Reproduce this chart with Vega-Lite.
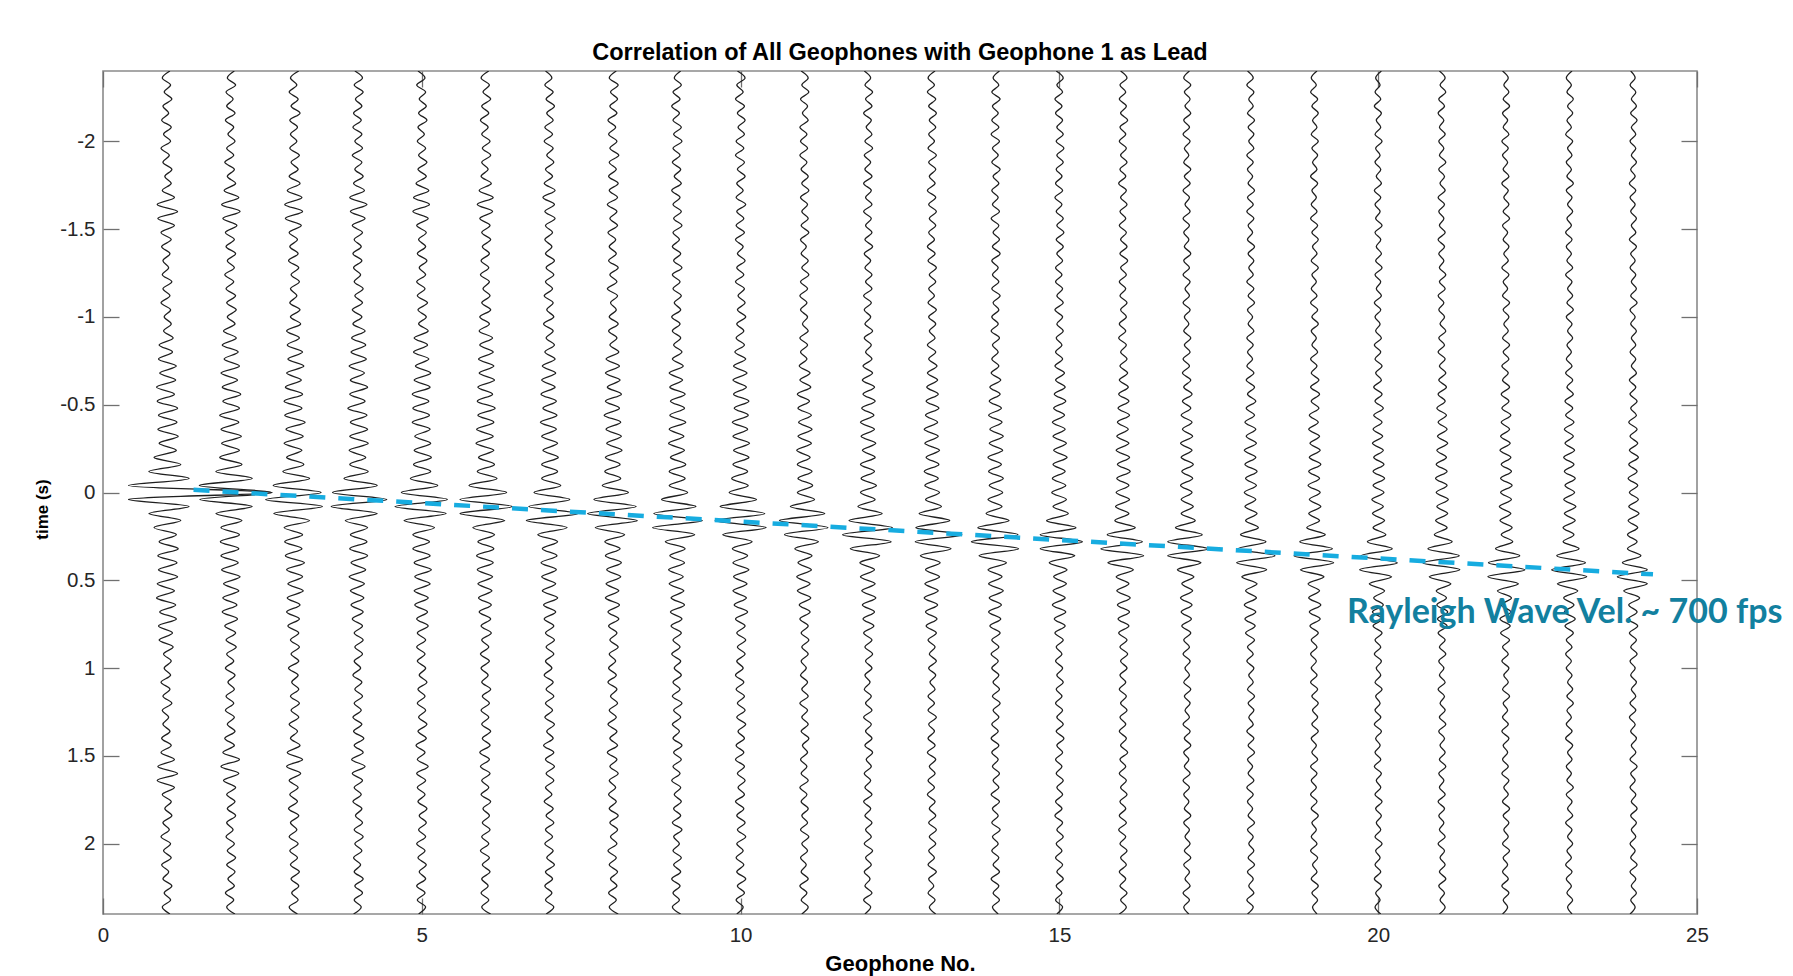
{
"$schema":"https://vega.github.io/schema/vega-lite/v6.json",
"width":1594,"height":843,
"autosize":{"type":"none"},
"padding":{"left":103,"top":71,"right":96,"bottom":62},
"background":"white",
"title":{"text":"Correlation of All Geophones with Geophone 1 as Lead","font":"Liberation Sans","fontSize":23.5,"fontWeight":"bold","color":"#000000","offset":6,"anchor":"middle","frame":"group"},
"config":{
"view":{"stroke":"#8a8a8a","strokeWidth":1.6},
"axis":{"grid":false,"domain":false,"labelFont":"Liberation Sans","titleFont":"Liberation Sans","labelFontSize":20.5,"titleFontSize":20,"titleFontWeight":"bold","labelColor":"#262626","titleColor":"#000000","tickColor":"#707070","tickWidth":1.3,"tickSize":-16,"labelFlush":false}
},
"datasets":{
"times":[{"i":1,"t":-2.4},{"i":2,"t":-2.36},{"i":3,"t":-2.32},{"i":4,"t":-2.28},{"i":5,"t":-2.24},{"i":6,"t":-2.2},{"i":7,"t":-2.16},{"i":8,"t":-2.12},{"i":9,"t":-2.08},{"i":10,"t":-2.04},{"i":11,"t":-2},{"i":12,"t":-1.96},{"i":13,"t":-1.92},{"i":14,"t":-1.88},{"i":15,"t":-1.84},{"i":16,"t":-1.8},{"i":17,"t":-1.76},{"i":18,"t":-1.72},{"i":19,"t":-1.68},{"i":20,"t":-1.64},{"i":21,"t":-1.6},{"i":22,"t":-1.56},{"i":23,"t":-1.52},{"i":24,"t":-1.48},{"i":25,"t":-1.44},{"i":26,"t":-1.4},{"i":27,"t":-1.36},{"i":28,"t":-1.32},{"i":29,"t":-1.28},{"i":30,"t":-1.24},{"i":31,"t":-1.2},{"i":32,"t":-1.16},{"i":33,"t":-1.12},{"i":34,"t":-1.08},{"i":35,"t":-1.04},{"i":36,"t":-1},{"i":37,"t":-0.96},{"i":38,"t":-0.92},{"i":39,"t":-0.88},{"i":40,"t":-0.84},{"i":41,"t":-0.8},{"i":42,"t":-0.76},{"i":43,"t":-0.72},{"i":44,"t":-0.68},{"i":45,"t":-0.64},{"i":46,"t":-0.6},{"i":47,"t":-0.56},{"i":48,"t":-0.52},{"i":49,"t":-0.48},{"i":50,"t":-0.44},{"i":51,"t":-0.4},{"i":52,"t":-0.36},{"i":53,"t":-0.32},{"i":54,"t":-0.28},{"i":55,"t":-0.24},{"i":56,"t":-0.2},{"i":57,"t":-0.16},{"i":58,"t":-0.12},{"i":59,"t":-0.08},{"i":60,"t":-0.04},{"i":61,"t":0},{"i":62,"t":0.04},{"i":63,"t":0.08},{"i":64,"t":0.12},{"i":65,"t":0.16},{"i":66,"t":0.2},{"i":67,"t":0.24},{"i":68,"t":0.28},{"i":69,"t":0.32},{"i":70,"t":0.36},{"i":71,"t":0.4},{"i":72,"t":0.44},{"i":73,"t":0.48},{"i":74,"t":0.52},{"i":75,"t":0.56},{"i":76,"t":0.6},{"i":77,"t":0.64},{"i":78,"t":0.68},{"i":79,"t":0.72},{"i":80,"t":0.76},{"i":81,"t":0.8},{"i":82,"t":0.84},{"i":83,"t":0.88},{"i":84,"t":0.92},{"i":85,"t":0.96},{"i":86,"t":1},{"i":87,"t":1.04},{"i":88,"t":1.08},{"i":89,"t":1.12},{"i":90,"t":1.16},{"i":91,"t":1.2},{"i":92,"t":1.24},{"i":93,"t":1.28},{"i":94,"t":1.32},{"i":95,"t":1.36},{"i":96,"t":1.4},{"i":97,"t":1.44},{"i":98,"t":1.48},{"i":99,"t":1.52},{"i":100,"t":1.56},{"i":101,"t":1.6},{"i":102,"t":1.64},{"i":103,"t":1.68},{"i":104,"t":1.72},{"i":105,"t":1.76},{"i":106,"t":1.8},{"i":107,"t":1.84},{"i":108,"t":1.88},{"i":109,"t":1.92},{"i":110,"t":1.96},{"i":111,"t":2},{"i":112,"t":2.04},{"i":113,"t":2.08},{"i":114,"t":2.12},{"i":115,"t":2.16},{"i":116,"t":2.2},{"i":117,"t":2.24},{"i":118,"t":2.28},{"i":119,"t":2.32},{"i":120,"t":2.36},{"i":121,"t":2.4}]
},
"resolve":{"axis":{"x":"independent","y":"independent"}},
"layer":[
{
"data":{"values":[
{"g":1,"x":[1.05,0.93,1.06,0.96,1.08,0.94,1.03,0.92,1.07,0.95,1.06,0.91,1.04,0.94,1.08,0.97,1.07,0.93,1.12,0.85,1.17,0.86,1.12,0.91,1.07,0.92,1.05,0.94,1.03,0.93,1.08,0.94,1.05,0.91,1.06,0.96,1.07,0.95,1.10,0.88,1.09,0.87,1.15,0.89,1.14,0.84,1.12,0.85,1.17,0.87,1.16,0.86,1.18,0.88,1.15,0.80,1.22,0.72,1.35,0.40,2.65,0.40,1.35,0.72,1.22,0.80,1.15,0.88,1.18,0.86,1.16,0.87,1.17,0.85,1.12,0.84,1.14,0.89,1.15,0.87,1.09,0.88,1.10,0.95,1.07,0.96,1.06,0.91,1.05,0.94,1.08,0.93,1.03,0.94,1.05,0.92,1.07,0.91,1.12,0.86,1.17,0.85,1.12,0.93,1.07,0.97,1.08,0.94,1.04,0.91,1.06,0.95,1.07,0.92,1.03,0.94,1.08,0.96,1.06,0.93,1.05]},
{"g":2,"x":[2.06,1.95,2.08,1.93,2.04,1.94,2.07,1.92,2.05,1.96,2.07,1.94,2.05,1.91,2.06,1.95,2.08,1.90,2.13,1.86,2.15,1.88,2.10,1.92,2.06,1.93,2.08,1.95,2.06,1.91,2.05,1.93,2.08,1.94,2.09,1.95,2.07,1.89,2.09,1.87,2.12,1.90,2.14,1.85,2.11,1.87,2.16,1.88,2.14,1.83,2.13,1.85,2.17,1.86,2.14,1.83,2.18,1.77,2.34,1.51,2.65,1.52,2.34,1.77,2.18,1.85,2.14,1.84,2.13,1.85,2.12,1.86,2.15,1.89,2.13,1.88,2.10,1.87,2.11,1.91,2.08,1.93,2.09,1.94,2.05,1.92,2.07,1.96,2.06,1.93,2.05,1.92,2.06,1.95,2.07,1.91,2.06,1.88,2.14,1.85,2.13,1.89,2.08,1.94,2.07,1.95,2.08,1.94,2.04,1.93,2.06,1.95,2.08,1.94,2.07,1.96,2.06,1.92,2.05,1.94,2.07]},
{"g":3,"x":[3.07,2.94,3.04,2.92,3.06,2.95,3.09,2.93,3.05,2.94,3.04,2.93,3.08,2.95,3.06,2.92,3.09,2.89,3.12,2.85,3.13,2.86,3.11,2.92,3.05,2.93,3.06,2.91,3.07,2.95,3.08,2.94,3.04,2.93,3.09,2.94,3.10,2.88,3.08,2.89,3.13,2.90,3.15,2.88,3.11,2.86,3.13,2.84,3.12,2.85,3.17,2.87,3.14,2.84,3.12,2.88,3.15,2.82,3.24,2.67,3.42,2.55,3.44,2.68,3.24,2.84,3.13,2.85,3.12,2.86,3.16,2.88,3.13,2.90,3.14,2.89,3.09,2.88,3.08,2.90,3.07,2.94,3.08,2.95,3.07,2.91,3.06,2.96,3.07,2.94,3.08,2.95,3.07,2.92,3.05,2.94,3.09,2.89,3.13,2.88,3.10,2.92,3.06,2.93,3.05,2.91,3.07,2.94,3.04,2.92,3.06,2.93,3.05,2.94,3.08,2.95,3.07,2.96,3.06,2.92,3.05]},
{"g":4,"x":[3.95,4.07,3.94,4.08,3.96,4.06,3.93,4.05,3.92,4.06,3.95,4.07,3.91,4.06,3.95,4.08,3.93,4.10,3.87,4.14,3.88,4.11,3.91,4.07,3.94,4.05,3.92,4.06,3.93,4.04,3.94,4.08,3.95,4.07,3.91,4.06,3.92,4.11,3.90,4.12,3.89,4.13,3.86,4.10,3.88,4.15,3.87,4.11,3.84,4.14,3.88,4.15,3.87,4.16,3.86,4.12,3.87,4.16,3.78,4.30,3.60,4.45,3.58,4.30,3.80,4.15,3.88,4.14,3.87,4.15,3.89,4.12,3.86,4.10,3.88,4.09,3.89,4.08,3.91,4.07,3.94,4.08,3.95,4.07,3.94,4.04,3.92,4.06,3.95,4.07,3.94,4.05,3.92,4.06,3.93,4.09,3.94,4.08,3.90,4.11,3.91,4.07,3.94,4.05,3.92,4.06,3.96,4.07,3.94,4.08,3.95,4.06,3.93,4.04,3.94,4.08,3.95,4.07,3.94,4.05,3.93]},
{"g":5,"x":[4.94,5.05,4.92,5.06,4.96,5.07,4.95,5.08,4.94,5.04,4.93,5.06,4.95,5.08,4.94,5.07,4.91,5.11,4.87,5.12,4.86,5.10,4.92,5.07,4.95,5.06,4.93,5.08,4.96,5.06,4.92,5.05,4.93,5.09,4.94,5.07,4.95,5.10,4.88,5.09,4.87,5.11,4.90,5.14,4.88,5.13,4.85,5.11,4.86,5.12,4.85,5.13,4.89,5.14,4.88,5.15,4.87,5.14,4.82,5.25,4.68,5.40,4.58,5.38,4.72,5.20,4.86,5.12,4.86,5.13,4.88,5.15,4.89,5.13,4.88,5.10,4.89,5.09,4.92,5.10,4.93,5.06,4.92,5.05,4.93,5.06,4.96,5.08,4.94,5.05,4.93,5.06,4.95,5.08,4.94,5.07,4.91,5.05,4.93,5.10,4.92,5.06,4.93,5.05,4.94,5.08,4.96,5.07,4.95,5.06,4.92,5.05,4.94,5.07,4.96,5.06,4.92,5.05,4.93,5.06,4.95]},
{"g":6,"x":[6.05,5.93,6.06,5.96,6.08,5.94,6.05,5.92,6.04,5.94,6.07,5.95,6.08,5.94,6.04,5.93,6.09,5.90,6.12,5.87,6.11,5.91,6.07,5.94,6.08,5.95,6.06,5.93,6.05,5.92,6.06,5.96,6.07,5.94,6.08,5.91,6.06,5.90,6.11,5.91,6.12,5.89,6.13,5.90,6.14,5.88,6.11,5.87,6.15,5.88,6.13,5.86,6.12,5.85,6.13,5.89,6.14,5.87,6.18,5.74,6.33,5.60,6.42,5.60,6.30,5.80,6.14,5.88,6.13,5.86,6.12,5.87,6.11,5.88,6.10,5.89,6.09,5.90,6.08,5.93,6.09,5.94,6.05,5.92,6.06,5.93,6.04,5.94,6.08,5.95,6.06,5.93,6.05,5.94,6.08,5.95,6.07,5.91,6.06,5.92,6.07,5.94,6.05,5.93,6.08,5.96,6.06,5.95,6.07,5.94,6.05,5.92,6.06,5.95,6.07,5.94,6.04,5.93,6.05,5.94,6.08]},
{"g":7,"x":[6.94,7.04,6.93,7.06,6.95,7.08,6.96,7.06,6.93,7.05,6.92,7.06,6.96,7.07,6.94,7.05,6.92,7.09,6.90,7.08,6.93,7.09,6.94,7.05,6.93,7.04,6.94,7.08,6.95,7.07,6.94,7.05,6.92,7.06,6.96,7.07,6.91,7.06,6.95,7.08,6.93,7.09,6.89,7.10,6.88,7.09,6.87,7.11,6.90,7.12,6.86,7.11,6.88,7.13,6.90,7.14,6.88,7.13,6.88,7.18,6.76,7.32,6.68,7.45,6.64,7.28,6.82,7.13,6.89,7.12,6.87,7.11,6.88,7.10,6.89,7.13,6.91,7.10,6.92,7.07,6.94,7.08,6.95,7.07,6.94,7.04,6.92,7.06,6.95,7.07,6.94,7.05,6.93,7.08,6.96,7.06,6.91,7.07,6.94,7.08,6.95,7.07,6.94,7.04,6.92,7.06,6.95,7.07,6.94,7.05,6.93,7.06,6.96,7.08,6.94,7.05,6.93,7.04,6.94,7.07,6.95]},
{"g":8,"x":[8.05,7.94,8.08,7.96,8.07,7.95,8.06,7.92,8.04,7.93,8.06,7.95,8.09,7.94,8.05,7.93,8.08,7.94,8.07,7.91,8.06,7.95,8.07,7.92,8.04,7.94,8.05,7.93,8.08,7.95,8.06,7.91,8.07,7.96,8.05,7.94,8.08,7.93,8.06,7.95,8.09,7.89,8.10,7.88,8.11,7.91,8.13,7.88,8.10,7.86,8.12,7.89,8.13,7.90,8.14,7.88,8.11,7.87,8.12,7.83,8.24,7.70,8.36,7.60,8.38,7.72,8.18,7.87,8.11,7.88,8.13,7.90,8.12,7.89,8.09,7.88,8.10,7.92,8.09,7.93,8.06,7.95,8.08,7.94,8.04,7.93,8.05,7.92,8.06,7.96,8.07,7.94,8.05,7.92,8.06,7.95,8.07,7.91,8.06,7.95,8.08,7.94,8.04,7.93,8.05,7.94,8.08,7.95,8.07,7.96,8.06,7.92,8.05,7.94,8.07,7.96,8.06,7.93,8.05,7.94,8.08]},
{"g":9,"x":[9.06,8.96,9.07,8.94,9.05,8.92,9.04,8.94,9.07,8.95,9.08,8.94,9.05,8.93,9.06,8.96,9.07,8.92,9.05,8.94,9.07,8.95,9.08,8.94,9.04,8.93,9.06,8.95,9.08,8.93,9.05,8.94,9.07,8.96,9.06,8.92,9.05,8.93,9.06,8.95,9.08,8.93,9.10,8.88,9.09,8.89,9.13,8.90,9.12,8.89,9.14,8.88,9.11,8.87,9.12,8.90,9.14,8.88,9.13,8.88,9.17,8.76,9.30,8.64,9.40,8.62,9.28,8.82,9.13,8.89,9.12,8.87,9.10,8.88,9.11,8.91,9.12,8.90,9.08,8.91,9.07,8.94,9.05,8.92,9.06,8.96,9.07,8.94,9.05,8.93,9.08,8.95,9.06,8.93,9.04,8.94,9.08,8.95,9.07,8.94,9.05,8.92,9.06,8.96,9.07,8.95,9.06,8.93,9.08,8.95,9.04,8.94,9.07,8.95,9.06,8.92,9.05,8.94,9.04,8.93,9.06]},
{"g":10,"x":[9.95,10.07,9.94,10.04,9.92,10.06,9.95,10.07,9.96,10.06,9.93,10.05,9.92,10.06,9.95,10.07,9.94,10.04,9.93,10.08,9.94,10.05,9.93,10.06,9.92,10.04,9.95,10.07,9.94,10.05,9.92,10.06,9.96,10.07,9.95,10.08,9.94,10.05,9.93,10.06,9.91,10.08,9.89,10.10,9.88,10.09,9.89,10.13,9.90,10.12,9.87,10.11,9.88,10.14,9.89,10.13,9.88,10.11,9.86,10.12,9.82,10.25,9.68,10.38,9.60,10.40,9.72,10.18,9.87,10.11,9.88,10.13,9.89,10.10,9.88,10.09,9.90,10.11,9.92,10.07,9.94,10.08,9.95,10.07,9.94,10.04,9.92,10.05,9.93,10.06,9.95,10.07,9.94,10.08,9.96,10.06,9.93,10.05,9.92,10.06,9.95,10.07,9.96,10.06,9.92,10.05,9.94,10.07,9.95,10.08,9.94,10.04,9.93,10.05,9.94,10.08,9.95,10.06,9.93,10.04,9.94]},
{"g":11,"x":[10.95,11.06,10.96,11.07,10.94,11.05,10.97,11.06,10.93,11.04,10.94,11.05,10.93,11.04,10.95,11.06,10.96,11.07,10.94,11.05,10.96,11.06,10.95,11.07,10.94,11.03,10.95,11.06,10.96,11.07,10.94,11.05,10.93,11.04,10.94,11.05,10.97,11.06,10.93,11.05,10.94,11.04,10.92,11.09,10.93,11.10,10.89,11.08,10.90,11.11,10.91,11.12,10.90,11.11,10.88,11.09,10.89,11.12,10.90,11.13,10.89,11.16,10.78,11.32,10.61,11.37,10.69,11.22,10.85,11.12,10.90,11.11,10.88,11.09,10.89,11.10,10.92,11.09,10.93,11.06,10.95,11.07,10.96,11.06,10.95,11.03,10.94,11.05,10.96,11.06,10.93,11.05,10.96,11.06,10.95,11.07,10.97,11.05,10.94,11.04,10.95,11.06,10.93,11.04,10.95,11.06,10.96,11.05,10.94,11.07,10.96,11.05,10.94,11.03,10.95,11.06,10.93,11.04,10.95,11.06,10.96]},
{"g":12,"x":[11.94,12.04,11.95,12.07,11.96,12.06,11.93,12.05,11.97,12.06,11.95,12.07,11.94,12.04,11.95,12.06,11.93,12.05,11.96,12.06,11.93,12.05,11.96,12.06,11.95,12.07,11.94,12.04,11.95,12.06,11.96,12.06,11.93,12.05,11.94,12.04,11.95,12.07,11.94,12.05,11.96,12.06,11.92,12.07,11.91,12.10,11.92,12.11,11.90,12.09,11.88,12.10,11.89,12.12,11.91,12.11,11.88,12.10,11.89,12.13,11.88,12.11,11.84,12.22,11.70,12.38,11.60,12.36,11.72,12.18,11.87,12.10,11.88,12.11,11.90,12.12,11.91,12.10,11.92,12.09,11.93,12.06,11.95,12.07,11.96,12.06,11.95,12.03,11.94,12.05,11.96,12.06,11.93,12.05,11.96,12.06,11.95,12.07,11.97,12.05,11.94,12.04,11.95,12.06,11.93,12.04,11.95,12.06,11.96,12.05,11.94,12.07,11.96,12.05,11.94,12.03,11.95,12.06,11.93,12.04,11.95]},
{"g":13,"x":[13.05,12.94,13.04,12.93,13.06,12.95,13.07,12.96,13.06,12.95,13.04,12.94,13.07,12.95,13.06,12.96,13.05,12.93,13.06,12.95,13.07,12.96,13.06,12.95,13.04,12.93,13.05,12.94,13.07,12.96,13.06,12.95,13.04,12.94,13.07,12.95,13.06,12.96,13.05,12.93,13.06,12.95,13.08,12.93,13.09,12.92,13.10,12.91,13.11,12.90,13.09,12.88,13.10,12.89,13.12,12.91,13.11,12.88,13.10,12.89,13.12,12.90,13.15,12.80,13.28,12.75,13.47,12.74,13.30,12.82,13.13,12.90,13.12,12.89,13.10,12.88,13.09,12.90,13.08,12.91,13.07,12.94,13.05,12.96,13.07,12.95,13.06,12.97,13.05,12.94,13.04,12.94,13.07,12.95,13.04,12.94,13.05,12.93,13.06,12.96,13.05,12.94,13.04,12.93,13.05,12.96,13.06,12.95,13.07,12.96,13.06,12.95,13.04,12.94,13.07,12.95,13.03,12.94,13.05,12.96,13.06]},
{"g":14,"x":[14.06,13.96,14.05,13.94,14.07,13.95,14.04,13.94,14.05,13.93,14.06,13.95,14.04,13.94,14.07,13.96,14.05,13.94,14.04,13.95,14.06,13.93,14.05,13.96,14.06,13.95,14.07,13.94,14.04,13.95,14.05,13.94,14.07,13.96,14.05,13.94,14.04,13.93,14.06,13.95,14.04,13.94,14.05,13.93,14.08,13.91,14.07,13.90,14.09,13.89,14.10,13.91,14.12,13.90,14.11,13.88,14.09,13.89,14.12,13.90,14.11,13.88,14.10,13.85,14.21,13.72,14.35,13.62,14.36,13.74,14.17,13.88,14.10,13.89,14.12,13.90,14.09,13.89,14.08,13.91,14.07,13.94,14.05,13.93,14.04,13.94,14.05,13.96,14.06,13.95,14.07,13.96,14.05,13.94,14.04,13.93,14.05,13.94,14.04,13.95,14.06,13.96,14.05,13.93,14.06,13.95,14.04,13.94,14.07,13.95,14.04,13.94,14.05,13.96,14.06,13.93,14.05,13.96,14.06,13.95,14.04]},
{"g":15,"x":[14.95,15.06,14.96,15.05,14.93,15.04,14.94,15.05,14.96,15.06,14.95,15.07,14.96,15.06,14.95,15.04,14.94,15.05,14.93,15.04,14.95,15.06,14.96,15.07,14.95,15.06,14.96,15.05,14.94,15.04,14.94,15.05,14.96,15.06,14.93,15.05,14.96,15.06,14.95,15.04,14.94,15.05,14.93,15.08,14.94,15.09,14.92,15.10,14.91,15.08,14.89,15.09,14.90,15.11,14.91,15.12,14.90,15.09,14.89,15.10,14.88,15.11,14.90,15.14,14.80,15.26,14.70,15.36,14.70,15.24,14.84,15.12,14.91,15.11,14.90,15.09,14.89,15.10,14.92,15.09,14.93,15.06,14.95,15.04,14.94,15.05,14.96,15.06,14.95,15.04,14.94,15.05,14.96,15.06,14.95,15.07,14.96,15.05,14.94,15.04,14.95,15.06,14.96,15.05,14.94,15.04,14.93,15.05,14.96,15.06,14.95,15.04,14.94,15.05,14.96,15.06,14.95,15.04,14.94,15.05,14.96]},
{"g":16,"x":[15.96,16.06,15.95,16.04,15.94,16.05,15.96,16.07,15.95,16.04,15.94,16.05,15.96,16.06,15.95,16.04,15.93,16.05,15.96,16.06,15.95,16.04,15.94,16.05,15.96,16.06,15.95,16.07,15.96,16.05,15.94,16.04,15.95,16.06,15.96,16.05,15.94,16.04,15.93,16.05,15.96,16.06,15.95,16.07,15.94,16.08,15.93,16.09,15.92,16.10,15.91,16.08,15.90,16.09,15.89,16.10,15.91,16.11,15.90,16.09,15.89,16.10,15.88,16.09,15.87,16.19,15.75,16.30,15.65,16.32,15.76,16.16,15.89,16.09,15.90,16.11,15.91,16.10,15.92,16.09,15.93,16.06,15.95,16.07,15.96,16.06,15.95,16.04,15.94,16.05,15.96,16.06,15.95,16.04,15.94,16.05,15.96,16.07,15.95,16.04,15.94,16.05,15.96,16.06,15.95,16.04,15.94,16.05,15.93,16.04,15.95,16.06,15.96,16.05,15.94,16.04,15.95,16.06,15.96,16.05,15.94]},
{"g":17,"x":[17.04,16.95,17.06,16.96,17.05,16.97,17.06,16.95,17.04,16.94,17.05,16.96,17.03,16.95,17.06,16.96,17.05,16.94,17.04,16.97,17.05,16.94,17.04,16.95,17.03,16.96,17.06,16.95,17.04,16.94,17.05,16.97,17.04,16.94,17.05,16.96,17.03,16.95,17.06,16.96,17.05,16.94,17.04,16.93,17.06,16.95,17.08,16.93,17.06,16.91,17.08,16.93,17.09,16.90,17.08,16.91,17.10,16.92,17.09,16.90,17.08,16.91,17.10,16.91,17.13,16.82,17.24,16.70,17.33,16.70,17.22,16.85,17.11,16.92,17.09,16.90,17.08,16.91,17.07,16.92,17.06,16.95,17.04,16.94,17.05,16.97,17.04,16.95,17.06,16.96,17.05,16.97,17.04,16.94,17.05,16.96,17.06,16.95,17.03,16.96,17.05,16.94,17.04,16.95,17.03,16.96,17.06,16.95,17.04,16.97,17.05,16.96,17.06,16.95,17.04,16.97,17.05,16.94,17.04,16.95,17.03]},
{"g":18,"x":[17.95,18.04,17.94,18.05,17.97,18.04,17.95,18.06,17.96,18.05,17.97,18.05,17.94,18.04,17.95,18.03,17.96,18.06,17.95,18.04,17.94,18.05,17.96,18.03,17.95,18.06,17.96,18.05,17.97,18.04,17.94,18.05,17.96,18.06,17.95,18.03,17.96,18.05,17.94,18.04,17.95,18.03,17.94,18.05,17.93,18.06,17.95,18.08,17.93,18.06,17.91,18.08,17.93,18.09,17.90,18.08,17.91,18.10,17.92,18.09,17.90,18.08,17.91,18.10,17.92,18.12,17.84,18.24,17.80,18.38,17.78,18.25,17.86,18.10,17.92,18.09,17.90,18.08,17.91,18.07,17.92,18.06,17.95,18.04,17.94,18.05,17.97,18.04,17.95,18.06,17.96,18.05,17.97,18.04,17.94,18.05,17.96,18.06,17.95,18.03,17.96,18.05,17.94,18.04,17.95,18.03,17.96,18.06,17.95,18.04,17.97,18.05,17.96,18.06,17.95,18.04,17.97,18.05,17.94,18.04,17.95]},
{"g":19,"x":[19.04,18.95,19.03,18.94,19.05,18.96,19.06,18.97,19.04,18.95,19.06,18.96,19.05,18.97,19.04,18.94,19.05,18.96,19.03,18.95,19.04,18.94,19.05,18.96,19.06,18.97,19.04,18.95,19.06,18.96,19.03,18.95,19.04,18.94,19.05,18.96,19.06,18.95,19.03,18.96,19.05,18.94,19.04,18.95,19.07,18.94,19.08,18.95,19.07,18.92,19.06,18.91,19.08,18.93,19.09,18.92,19.10,18.91,19.08,18.90,19.09,18.92,19.10,18.91,19.08,18.88,19.17,18.77,19.28,18.68,19.30,18.78,19.15,18.90,19.08,18.91,19.10,18.92,19.09,18.93,19.06,18.95,19.04,18.94,19.03,18.95,19.04,18.94,19.05,18.96,19.06,18.97,19.05,18.96,19.06,18.95,19.03,18.96,19.05,18.94,19.04,18.95,19.03,18.94,19.04,18.95,19.06,18.96,19.03,18.95,19.04,18.94,19.05,18.97,19.04,18.95,19.06,18.96,19.05,18.97,19.04]},
{"g":20,"x":[20.05,19.96,20.03,19.95,20.04,19.94,20.05,19.97,20.04,19.95,20.06,19.96,20.03,19.95,20.04,19.97,20.05,19.94,20.04,19.95,20.03,19.96,20.06,19.95,20.04,19.97,20.05,19.96,20.06,19.95,20.04,19.97,20.05,19.94,20.04,19.95,20.03,19.96,20.05,19.94,20.04,19.95,20.06,19.96,20.05,19.93,20.06,19.95,20.08,19.93,20.06,19.92,20.07,19.91,20.08,19.93,20.09,19.92,20.10,19.92,20.09,19.90,20.08,19.91,20.10,19.92,20.12,19.83,20.22,19.73,20.30,19.71,20.21,19.86,20.10,19.93,20.08,19.91,20.07,19.92,20.06,19.95,20.04,19.94,20.05,19.97,20.04,19.95,20.06,19.96,20.03,19.95,20.04,19.94,20.05,19.96,20.03,19.95,20.04,19.94,20.05,19.97,20.04,19.95,20.06,19.96,20.05,19.97,20.04,19.95,20.06,19.96,20.03,19.95,20.04,19.94,20.05,19.96,20.03,19.95,20.04]},
{"g":21,"x":[20.96,21.05,20.97,21.06,20.95,21.04,20.94,21.03,20.96,21.05,20.95,21.03,20.96,21.06,20.95,21.04,20.97,21.05,20.94,21.04,20.95,21.03,20.96,21.05,20.94,21.04,20.95,21.03,20.96,21.06,20.96,21.05,20.94,21.03,20.95,21.04,20.97,21.06,20.95,21.04,20.94,21.05,20.96,21.06,20.95,21.07,20.94,21.05,20.92,21.07,20.94,21.08,20.93,21.09,20.92,21.07,20.91,21.08,20.90,21.08,20.91,21.10,20.92,21.09,20.90,21.08,20.88,21.16,20.78,21.27,20.70,21.28,20.80,21.14,20.91,21.07,20.92,21.09,20.93,21.08,20.94,21.05,20.96,21.06,20.95,21.03,20.96,21.05,20.94,21.04,20.97,21.05,20.96,21.06,20.95,21.04,20.97,21.05,20.96,21.06,20.95,21.03,20.96,21.05,20.94,21.04,20.95,21.03,20.96,21.05,20.94,21.04,20.97,21.05,20.96,21.06,20.95,21.04,20.97,21.05,20.96]},
{"g":22,"x":[21.95,22.04,21.97,22.05,21.96,22.06,21.95,22.03,21.96,22.05,21.94,22.04,21.95,22.03,21.96,22.05,21.94,22.04,21.97,22.05,21.96,22.06,21.95,22.03,21.96,22.05,21.97,22.04,21.94,22.05,21.96,22.03,21.95,22.06,21.96,22.05,21.97,22.04,21.95,22.06,21.96,22.05,21.94,22.04,21.95,22.06,21.93,22.05,21.94,22.08,21.93,22.06,21.92,22.07,21.91,22.08,21.93,22.09,21.92,22.10,21.92,22.09,21.90,22.08,21.91,22.10,21.93,22.11,21.84,22.22,21.73,22.30,21.72,22.20,21.87,22.09,21.93,22.08,21.91,22.07,21.92,22.06,21.95,22.04,21.94,22.05,21.97,22.04,21.95,22.06,21.96,22.03,21.95,22.04,21.94,22.05,21.96,22.03,21.95,22.04,21.94,22.05,21.97,22.04,21.95,22.06,21.96,22.05,21.97,22.04,21.95,22.06,21.96,22.03,21.95,22.04,21.94,22.05,21.96,22.03,21.95]},
{"g":23,"x":[23.04,22.95,23.03,22.96,23.06,22.97,23.05,22.96,23.03,22.94,23.05,22.97,23.04,22.95,23.03,22.96,23.06,22.95,23.04,22.97,23.05,22.96,23.03,22.94,23.04,22.95,23.03,22.96,23.05,22.94,23.04,22.97,23.05,22.96,23.06,22.95,23.04,22.97,23.05,22.96,23.03,22.95,23.04,22.94,23.05,22.96,23.06,22.93,23.05,22.94,23.07,22.92,23.06,22.93,23.08,22.91,23.07,22.92,23.09,22.93,23.08,22.91,23.10,22.92,23.09,22.90,23.07,22.90,23.15,22.80,23.25,22.72,23.27,22.81,23.13,22.91,23.07,22.92,23.09,22.93,23.06,22.95,23.04,22.94,23.03,22.95,23.04,22.97,23.05,22.96,23.06,22.96,23.03,22.95,23.04,22.94,23.05,22.97,23.04,22.95,23.03,22.96,23.06,22.95,23.04,22.97,23.05,22.94,23.04,22.97,23.05,22.96,23.03,22.94,23.04,22.95,23.03,22.96,23.05,22.97,23.04]},
{"g":24,"x":[23.96,24.03,23.95,24.04,23.97,24.05,23.96,24.06,23.97,24.04,23.95,24.04,23.97,24.05,23.96,24.03,23.94,24.04,23.95,24.03,23.96,24.05,23.97,24.04,23.94,24.05,23.96,24.03,23.95,24.04,23.97,24.05,23.96,24.06,23.95,24.03,23.96,24.05,23.97,24.04,23.95,24.04,23.97,24.05,23.94,24.04,23.95,24.06,23.96,24.05,23.93,24.06,23.95,24.07,23.94,24.08,23.93,24.06,23.92,24.07,23.94,24.08,23.93,24.09,23.92,24.07,23.91,24.06,23.91,24.12,23.83,24.22,23.75,24.22,23.85,24.10,23.93,24.06,23.92,24.07,23.94,24.05,23.96,24.06,23.95,24.03,23.96,24.05,23.97,24.04,23.95,24.04,23.94,24.03,23.96,24.05,23.97,24.04,23.95,24.06,23.96,24.03,23.95,24.04,23.97,24.06,23.96,24.05,23.97,24.04,23.95,24.03,23.96,24.06,23.95,24.04,23.97,24.05,23.96,24.03,23.95]}
]},
"transform":[
{"flatten":["x"]},
{"window":[{"op":"row_number","as":"i"}],"groupby":["g"]},
{"lookup":"i","from":{"data":{"name":"times"},"key":"i","fields":["t"]}}
],
"mark":{"type":"line","interpolate":"catmull-rom","color":"#1f1f1f","strokeWidth":1.3,"clip":true},
"encoding":{
"x":{"field":"x","type":"quantitative","scale":{"domain":[0,25],"nice":false,"zero":false},
"axis":{"orient":"bottom","values":[0,5,10,15,20,25],"labelPadding":27,"title":"Geophone No.","titleFontSize":22,"titleX":797,"titleY":49,"titleBaseline":"middle","titleAlign":"center"}},
"y":{"field":"t","type":"quantitative","scale":{"domain":[-2.4,2.4],"reverse":true,"nice":false,"zero":false},
"axis":{"orient":"left","values":[-2,-1.5,-1,-0.5,0,0.5,1,1.5,2],"labelExpr":"datum.value + ''","labelPadding":24,"title":"time (s)","titleFontSize":17,"titleX":-61,"titleY":438,"titleAngle":-90,"titleBaseline":"middle","titleAlign":"center"}},
"detail":{"field":"g","type":"nominal"},
"order":{"field":"i","type":"quantitative"}
}
},
{
"data":{"values":[{"x":1.42,"t":-0.015},{"x":24.31,"t":0.466}]},
"mark":{"type":"line","color":"#17ace0","strokeWidth":4.5,"strokeDash":[16,13]},
"encoding":{
"x":{"field":"x","type":"quantitative","axis":{"orient":"top","values":[0,5,10,15,20,25],"labels":false,"title":null}},
"y":{"field":"t","type":"quantitative","axis":{"orient":"right","values":[-2,-1.5,-1,-0.5,0,0.5,1,1.5,2],"labels":false,"title":null}}
}
},
{
"data":{"values":[{"x":19.51,"t":0.743,"label":"Rayleigh Wave Vel. ~  700 fps"}]},
"mark":{"type":"text","align":"left","baseline":"alphabetic","font":"Lato","fontWeight":"bold","fontSize":34,"color":"#12809f"},
"encoding":{
"x":{"field":"x","type":"quantitative","axis":null},
"y":{"field":"t","type":"quantitative","axis":null},
"text":{"field":"label"}
}
}
]
}
